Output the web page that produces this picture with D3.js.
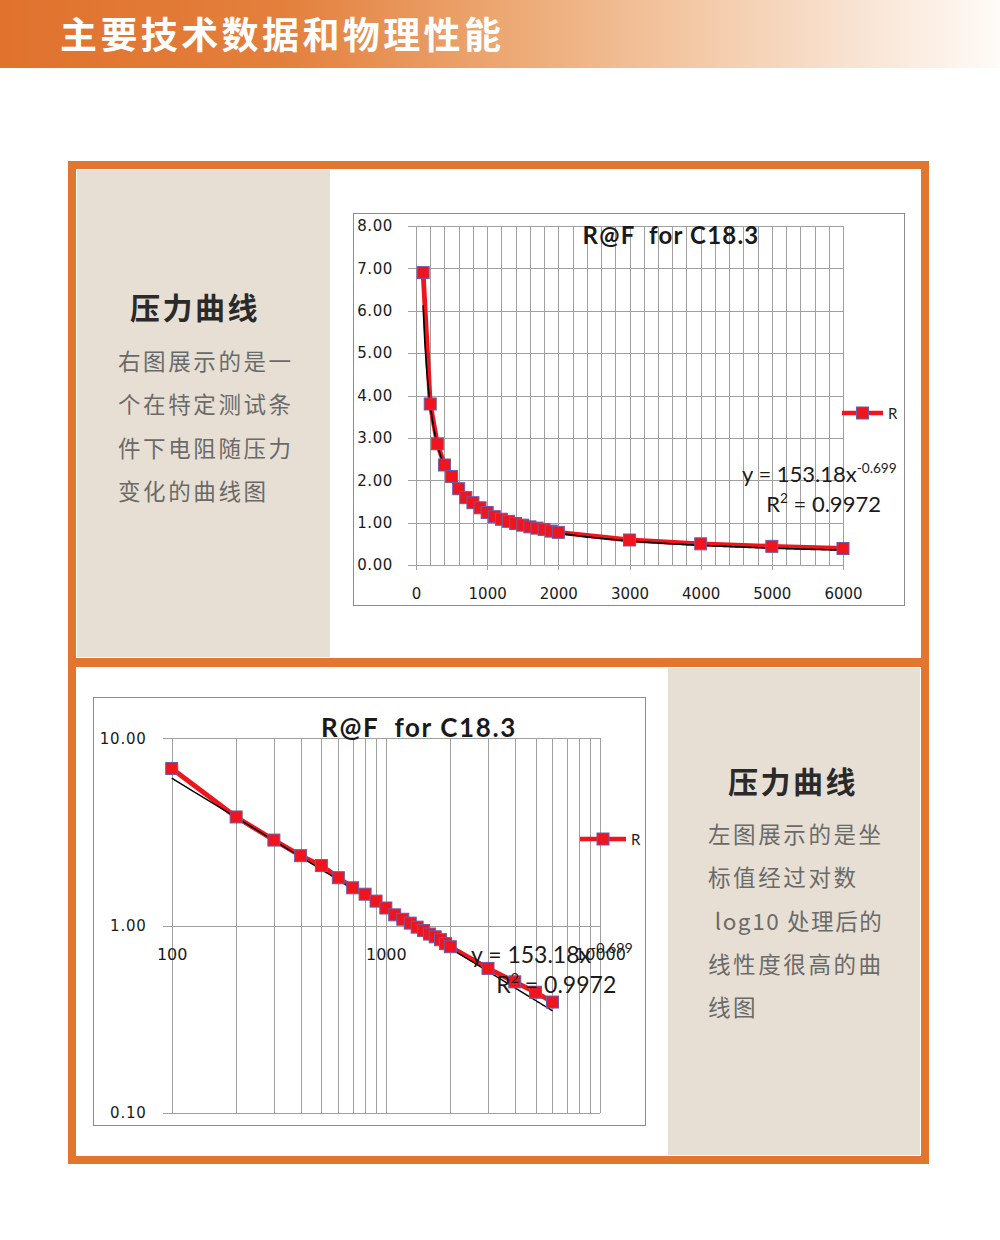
<!DOCTYPE html>
<html>
<head>
<meta charset="utf-8">
<title>R@F for C18.3</title>
<script src="https://d3js.org/d3.v7.min.js"></script>
<style>
  body { margin: 0; background: #fff; }
  text { white-space: pre; }
  .tick line { stroke: #a0a0a0; shape-rendering: crispEdges; }
  .lbl text { font-family: "DejaVu Sans", Verdana, sans-serif; font-size: 15px; fill: #1a1a1a; }
</style>
</head>
<body>
<div id="vis"></div>
<script>
// data: force vs resistance
var forceN = [100, 200, 300, 400, 500, 600, 700, 800, 900, 1000, 1100, 1200, 1300, 1400,
              1500, 1600, 1700, 1800, 1900, 2000, 3000, 4000, 5000, 6000];
var resistK = [6.90, 3.80, 2.86, 2.36, 2.09, 1.80, 1.59, 1.47, 1.35, 1.24, 1.14, 1.08, 1.03, 0.98,
               0.94, 0.90, 0.87, 0.84, 0.80, 0.77, 0.59, 0.50, 0.44, 0.39];
// power trendline shown on the chart: y = 153.18 x^-0.699
var fitA = 153.18;
var fitB = -0.699;

var linXTicks = [0, 1000, 2000, 3000, 4000, 5000, 6000];
var linYTicks = [0, 1, 2, 3, 4, 5, 6, 7, 8];
var logXLabels = [100, 1000, 10000];
var logYTicks = [0.1, 1, 10];

var pageTitle = "主要技术数据和物理性能";
var chartTitle = "R@F  for C18.3";
var headTop = "压力曲线";
var bodyTop = ["右图展示的是一", "个在特定测试条", "件下电阻随压力", "变化的曲线图"];
var bodyBottom = ["左图展示的是坐", "标值经过对数", " log10 处理后的", "线性度很高的曲", "线图"];

var width = 1000, height = 1240;
var orange = "#e2762f", beige = "#e7dfd3";
var red = "#f0141c", markStroke = "#6c5cae";

var pts = forceN.map(function (f, i) { return { f: f, r: resistK[i] }; });
var trend = d3.range(100, 6001, 25).map(function (f) { return { f: f, r: fitA * Math.pow(f, fitB) }; });

var svg = d3.select("#vis").append("svg")
  .attr("width", width)
  .attr("height", height);

// header banner
var grad = svg.append("defs").append("linearGradient").attr("id", "hdr");
[[0, "#e0722d"], [0.28, "#e37f3c"], [0.5, "#eca772"], [0.7, "#f3caa8"], [0.88, "#f9e7d9"], [1, "#fefbf8"]]
  .forEach(function (s) { grad.append("stop").attr("offset", s[0]).attr("stop-color", s[1]); });
svg.append("rect").attr("x", 0).attr("y", 0).attr("width", width).attr("height", 68).attr("fill", "url(#hdr)");
svg.append("text").attr("x", 60).attr("y", 49)
  .style("font-family", "'Noto Sans CJK SC'").style("font-weight", "bold")
  .style("font-size", "37px").style("letter-spacing", "3.4px").attr("fill", "#fff")
  .text(pageTitle);

// orange frame + panels
svg.append("rect").attr("x", 68).attr("y", 161).attr("width", 861).attr("height", 1003).attr("fill", orange);
svg.append("rect").attr("x", 76).attr("y", 169).attr("width", 845).attr("height", 489).attr("fill", "#fff");
svg.append("rect").attr("x", 76).attr("y", 667).attr("width", 845).attr("height", 489).attr("fill", "#fff");
svg.append("rect").attr("x", 77).attr("y", 170).attr("width", 253).attr("height", 487).attr("fill", beige);
svg.append("rect").attr("x", 668).attr("y", 668).attr("width", 252).attr("height", 487).attr("fill", beige);

function textBlock(x, yHead, head) {
  svg.append("text").attr("x", x).attr("y", yHead)
    .style("font-family", "'Noto Sans CJK SC'").style("font-weight", "bold")
    .style("font-size", "30px").style("letter-spacing", "2.5px").attr("fill", "#2a2a2a")
    .text(head);
}
function bodyLines(x, y0, lines) {
  svg.append("g").selectAll("text").data(lines).enter().append("text")
    .attr("x", x).attr("y", function (d, i) { return y0 + i * 43.3; })
    .style("font-family", "'Noto Sans CJK SC'").style("font-size", "22.5px")
    .style("letter-spacing", function (d) { return d.indexOf("log") >= 0 ? "1.6px" : "2.6px"; })
    .attr("fill", "#6a6a6a")
    .text(function (d) { return d; });
}
textBlock(130, 319, headTop);
bodyLines(118, 370, bodyTop);
textBlock(728, 793, headTop);
bodyLines(708, 843, bodyBottom);

function drawMarkers(g, xs, ys, data) {
  g.append("g").selectAll("rect").data(data).enter().append("rect")
    .attr("x", function (d) { return xs(d.f) - 6; })
    .attr("y", function (d) { return ys(d.r) - 6; })
    .attr("width", 12).attr("height", 12)
    .attr("fill", red).attr("stroke", markStroke).attr("stroke-width", 1);
}

function legend(g, x0, yc, len) {
  g.append("line").attr("x1", x0).attr("x2", x0 + len).attr("y1", yc).attr("y2", yc)
    .attr("stroke", red).attr("stroke-width", 4.5);
  g.append("rect").attr("x", x0 + len / 2 - 6).attr("y", yc - 6).attr("width", 12).attr("height", 12)
    .attr("fill", red).attr("stroke", markStroke);
  g.append("text").attr("x", x0 + len + 5).attr("y", yc + 6)
    .style("font-family", "Lato, 'Open Sans', sans-serif").style("font-size", "15px").attr("fill", "#222")
    .text("R");
}

function equation(g, x, y, size) {
  var t1 = g.append("text").attr("x", x).attr("y", y)
    .style("font-family", "Lato, sans-serif").style("font-size", size + "px").attr("fill", "#1a1a1a");
  t1.append("tspan").text("y = " + fitA.toFixed(2) + "x");
  t1.append("tspan").attr("dy", -size * 0.42).style("font-size", (size * 0.62) + "px").text(fitB.toFixed(3));
  var t2 = g.append("text").attr("x", x + size * 1.1).attr("y", y + 30)
    .style("font-family", "Lato, sans-serif").style("font-size", size + "px").attr("fill", "#1a1a1a");
  t2.append("tspan").text("R");
  t2.append("tspan").attr("dy", -size * 0.42).style("font-size", (size * 0.62) + "px").text("2");
  t2.append("tspan").attr("dy", size * 0.42).text(" = 0.9972");
}

// ---------- top chart: linear ----------
var topG = svg.append("g");
topG.append("rect").attr("x", 353.5).attr("y", 213.5).attr("width", 551).attr("height", 392)
  .attr("fill", "#fff").attr("stroke", "#8c8c8c");

var x = d3.scaleLinear().domain([0, 6000]).range([416, 843]);
var y = d3.scaleLinear().domain([0, 8]).range([565, 226]);

topG.append("g").attr("transform", "translate(0,565)")
  .call(d3.axisBottom(x).tickValues(d3.range(0, 6001, 200)).tickSize(-(565 - 226)).tickFormat(""))
  .call(function (g) { g.select(".domain").remove(); });
topG.append("g").attr("transform", "translate(408,0)")
  .call(d3.axisLeft(y).tickValues(linYTicks).tickSize(-(843 - 408)).tickFormat(""))
  .call(function (g) { g.select(".domain").remove(); });

topG.append("g").attr("class", "lbl").attr("transform", "translate(0,565)")
  .call(d3.axisBottom(x).tickValues(linXTicks).tickSize(5).tickFormat(d3.format("d")))
  .call(function (g) {
    g.select(".domain").remove();
    g.selectAll("text").attr("y", 34).attr("dy", null);
  });
topG.append("g").attr("class", "lbl").attr("transform", "translate(416,0)")
  .call(d3.axisLeft(y).tickValues(linYTicks).tickSize(0).tickPadding(23).tickFormat(d3.format(".2f")))
  .call(function (g) {
    g.select(".domain").remove();
    g.selectAll("text").style("letter-spacing", "0.6px");
  });

topG.append("path").datum(pts)
  .attr("fill", "none").attr("stroke", red).attr("stroke-width", 4.8).attr("stroke-linejoin", "round")
  .attr("d", d3.line().x(function (d) { return x(d.f); }).y(function (d) { return y(d.r); }));
topG.append("path").datum(trend)
  .attr("fill", "none").attr("stroke", "#000").attr("stroke-width", 1.6)
  .attr("d", d3.line().x(function (d) { return x(d.f); }).y(function (d) { return y(d.r); }));
drawMarkers(topG, x, y, pts);

topG.append("text").attr("x", 671).attr("y", 244).attr("text-anchor", "middle")
  .style("font-family", "Lato, sans-serif").style("font-weight", "bold").style("font-size", "24px")
  .style("letter-spacing", "1.2px")
  .attr("fill", "#1a1a1a").text(chartTitle);
legend(topG, 842, 413, 41);
equation(topG, 742, 482, 22);

// ---------- bottom chart: log-log ----------
var botG = svg.append("g");
botG.append("rect").attr("x", 93.5).attr("y", 697.5).attr("width", 552).attr("height", 428)
  .attr("fill", "#fff").attr("stroke", "#8c8c8c");

var xl = d3.scaleLog().domain([100, 10000]).range([171.7, 600]);
var yl = d3.scaleLog().domain([0.1, 10]).range([1112.7, 738.3]);

var logGrid = d3.range(100, 1000, 100).concat(d3.range(1000, 10001, 1000));
botG.append("g").attr("transform", "translate(0,1112.7)")
  .call(d3.axisBottom(xl).tickValues(logGrid).tickSize(-(1112.7 - 738.3)).tickFormat(""))
  .call(function (g) { g.select(".domain").remove(); });
botG.append("g").attr("transform", "translate(163,0)")
  .call(d3.axisLeft(yl).tickValues(logYTicks).tickSize(-(600 - 163)).tickFormat(""))
  .call(function (g) { g.select(".domain").remove(); });

botG.append("g").attr("class", "lbl").attr("transform", "translate(171.7,0)")
  .call(d3.axisLeft(yl).tickValues(logYTicks).tickSize(0).tickPadding(25).tickFormat(d3.format(".2f")))
  .call(function (g) {
    g.select(".domain").remove();
    g.selectAll("text").style("letter-spacing", "0.8px");
  });

botG.append("g").attr("class", "lbl").attr("transform", "translate(0," + yl(1) + ")")
  .call(d3.axisBottom(xl).tickValues(logXLabels).tickSize(0).tickFormat(d3.format("d")))
  .call(function (g) {
    g.select(".domain").remove();
    g.selectAll("text").attr("y", 34).attr("dy", null).style("font-size", "16px");
  });

botG.append("path").datum(pts)
  .attr("fill", "none").attr("stroke", red).attr("stroke-width", 4.8).attr("stroke-linejoin", "round")
  .attr("d", d3.line().x(function (d) { return xl(d.f); }).y(function (d) { return yl(d.r); }));
botG.append("path").datum(trend)
  .attr("fill", "none").attr("stroke", "#000").attr("stroke-width", 1.4)
  .attr("d", d3.line().x(function (d) { return xl(d.f); }).y(function (d) { return yl(d.r); }));
drawMarkers(botG, xl, yl, pts);

botG.append("text").attr("x", 419).attr("y", 737).attr("text-anchor", "middle")
  .style("font-family", "Lato, sans-serif").style("font-weight", "bold").style("font-size", "26px")
  .style("letter-spacing", "1.6px")
  .attr("fill", "#1a1a1a").text(chartTitle);
legend(botG, 580, 839, 46);
equation(botG, 471, 963, 23);
</script>
</body>
</html>
